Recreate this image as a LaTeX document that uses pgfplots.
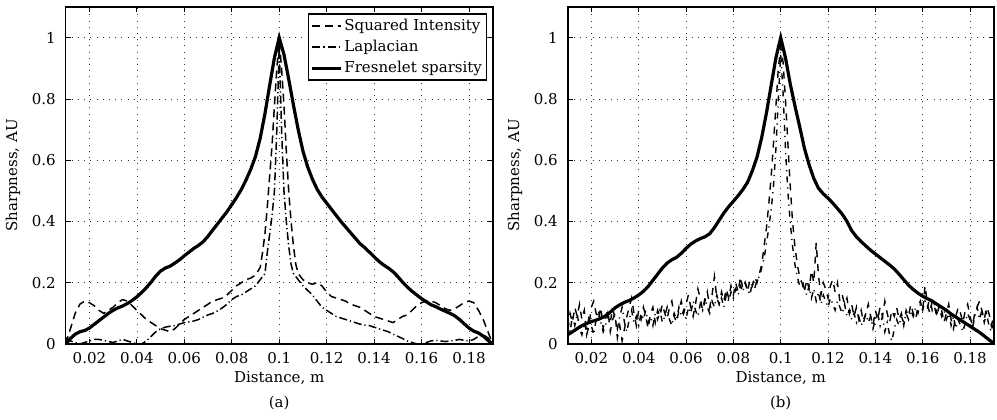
\documentclass[border=0pt]{standalone}
\usepackage{fontspec}
\setmainfont{DejaVu Serif}
\usepackage{pgfplots}
\usepackage{pgfplotstable}
\pgfplotsset{compat=1.18}

\pgfplotstableread{
x y
0.010 0.000
0.012 0.018
0.014 0.032
0.016 0.040
0.018 0.044
0.020 0.052
0.022 0.064
0.024 0.076
0.026 0.088
0.028 0.100
0.030 0.110
0.032 0.118
0.034 0.124
0.036 0.132
0.038 0.142
0.040 0.154
0.042 0.168
0.044 0.184
0.046 0.202
0.048 0.222
0.050 0.238
0.052 0.248
0.054 0.254
0.056 0.264
0.058 0.275
0.060 0.288
0.062 0.300
0.064 0.312
0.066 0.322
0.068 0.334
0.070 0.352
0.072 0.372
0.074 0.392
0.076 0.412
0.078 0.432
0.080 0.455
0.082 0.478
0.084 0.504
0.086 0.535
0.088 0.570
0.090 0.612
0.092 0.672
0.094 0.752
0.096 0.845
0.098 0.935
0.100 1.000
0.102 0.945
0.104 0.865
0.106 0.780
0.108 0.700
0.110 0.630
0.112 0.578
0.114 0.538
0.116 0.505
0.118 0.480
0.120 0.460
0.122 0.440
0.124 0.420
0.126 0.400
0.128 0.382
0.130 0.364
0.132 0.346
0.134 0.328
0.136 0.315
0.138 0.300
0.140 0.285
0.142 0.270
0.144 0.258
0.146 0.248
0.148 0.236
0.150 0.220
0.152 0.202
0.154 0.186
0.156 0.172
0.158 0.160
0.160 0.148
0.162 0.138
0.164 0.128
0.166 0.122
0.168 0.114
0.170 0.107
0.172 0.100
0.174 0.092
0.176 0.080
0.178 0.066
0.180 0.052
0.182 0.042
0.184 0.036
0.186 0.026
0.188 0.012
0.190 0.000
}\fresA

\pgfplotstableread{
x y
0.010 0.00
0.012 0.05
0.014 0.10
0.016 0.13
0.018 0.14
0.020 0.135
0.022 0.125
0.024 0.11
0.026 0.10
0.028 0.11
0.030 0.12
0.032 0.135
0.034 0.145
0.036 0.14
0.038 0.125
0.040 0.11
0.042 0.095
0.044 0.08
0.046 0.07
0.048 0.06
0.050 0.05
0.052 0.045
0.054 0.04
0.056 0.05
0.058 0.065
0.060 0.08
0.062 0.09
0.064 0.10
0.066 0.11
0.068 0.12
0.070 0.13
0.072 0.14
0.074 0.145
0.076 0.15
0.078 0.16
0.080 0.175
0.082 0.19
0.084 0.20
0.086 0.21
0.088 0.215
0.090 0.225
0.092 0.25
0.093 0.30
0.094 0.36
0.095 0.45
0.096 0.55
0.097 0.65
0.098 0.78
0.099 0.90
0.100 0.99
0.101 0.90
0.102 0.78
0.103 0.63
0.104 0.50
0.105 0.40
0.106 0.32
0.107 0.26
0.108 0.23
0.110 0.21
0.112 0.20
0.114 0.195
0.116 0.20
0.118 0.19
0.120 0.17
0.122 0.155
0.124 0.15
0.126 0.145
0.128 0.14
0.130 0.13
0.132 0.125
0.134 0.12
0.136 0.11
0.138 0.10
0.140 0.09
0.142 0.085
0.144 0.08
0.146 0.075
0.148 0.07
0.150 0.08
0.152 0.09
0.154 0.095
0.156 0.11
0.158 0.125
0.160 0.135
0.162 0.14
0.164 0.14
0.166 0.135
0.168 0.125
0.170 0.115
0.172 0.11
0.174 0.115
0.176 0.125
0.178 0.135
0.180 0.14
0.182 0.135
0.184 0.11
0.186 0.08
0.188 0.04
0.190 0.00
}\sqA

\pgfplotstableread{
x y
0.010 0.02
0.012 0.01
0.014 0.005
0.016 0.00
0.018 0.005
0.020 0.01
0.022 0.015
0.024 0.015
0.026 0.012
0.028 0.008
0.030 0.005
0.032 0.01
0.034 0.015
0.036 0.01
0.038 0.005
0.040 0.00
0.042 0.00
0.044 0.01
0.046 0.025
0.048 0.04
0.050 0.05
0.052 0.055
0.054 0.058
0.056 0.06
0.058 0.065
0.060 0.07
0.062 0.072
0.064 0.075
0.066 0.08
0.068 0.088
0.070 0.095
0.072 0.10
0.074 0.108
0.076 0.118
0.078 0.13
0.080 0.145
0.082 0.155
0.084 0.16
0.086 0.17
0.088 0.18
0.090 0.19
0.092 0.21
0.094 0.23
0.095 0.30
0.096 0.36
0.097 0.42
0.098 0.50
0.099 0.70
0.100 0.97
0.101 0.70
0.102 0.50
0.103 0.40
0.104 0.32
0.105 0.26
0.106 0.23
0.108 0.21
0.110 0.19
0.112 0.175
0.114 0.16
0.116 0.14
0.118 0.12
0.120 0.11
0.122 0.10
0.124 0.09
0.126 0.085
0.128 0.08
0.130 0.075
0.132 0.07
0.134 0.065
0.136 0.062
0.138 0.06
0.140 0.055
0.142 0.05
0.144 0.045
0.146 0.04
0.148 0.032
0.150 0.025
0.152 0.018
0.154 0.01
0.156 0.005
0.158 0.00
0.160 0.00
0.162 0.005
0.164 0.01
0.166 0.012
0.168 0.01
0.170 0.008
0.172 0.01
0.174 0.012
0.176 0.015
0.178 0.012
0.180 0.01
0.182 0.015
0.184 0.025
0.186 0.03
0.188 0.02
0.190 0.00
}\lapA

\pgfplotstableread{
x y
0.010 0.030
0.012 0.040
0.014 0.050
0.016 0.060
0.018 0.067
0.020 0.073
0.022 0.078
0.024 0.084
0.026 0.092
0.028 0.104
0.030 0.118
0.032 0.128
0.034 0.136
0.036 0.142
0.038 0.150
0.040 0.160
0.042 0.172
0.044 0.188
0.046 0.208
0.048 0.228
0.050 0.248
0.052 0.264
0.054 0.275
0.056 0.283
0.058 0.296
0.060 0.312
0.062 0.326
0.064 0.336
0.066 0.344
0.068 0.350
0.070 0.360
0.072 0.380
0.074 0.404
0.076 0.428
0.078 0.448
0.080 0.466
0.082 0.484
0.084 0.504
0.086 0.528
0.088 0.565
0.090 0.610
0.092 0.675
0.094 0.755
0.096 0.845
0.098 0.935
0.100 1.000
0.102 0.935
0.104 0.850
0.106 0.778
0.108 0.710
0.110 0.640
0.112 0.585
0.114 0.540
0.116 0.508
0.118 0.490
0.120 0.476
0.122 0.460
0.124 0.442
0.126 0.424
0.128 0.400
0.130 0.370
0.132 0.350
0.134 0.334
0.136 0.320
0.138 0.306
0.140 0.294
0.142 0.282
0.144 0.270
0.146 0.258
0.148 0.245
0.150 0.228
0.152 0.210
0.154 0.192
0.156 0.178
0.158 0.166
0.160 0.156
0.162 0.148
0.164 0.140
0.166 0.130
0.168 0.120
0.170 0.110
0.172 0.098
0.174 0.088
0.176 0.078
0.178 0.068
0.180 0.058
0.182 0.048
0.184 0.038
0.186 0.026
0.188 0.014
0.190 0.002
}\fresB

\pgfplotstableread{
x y
0.010 0.05
0.011 0.10
0.012 0.07
0.013 0.12
0.014 0.09
0.015 0.13
0.016 0.08
0.017 0.11
0.018 0.03
0.019 0.06
0.020 0.12
0.021 0.14
0.022 0.10
0.023 0.08
0.024 0.12
0.025 0.05
0.026 0.09
0.027 0.11
0.028 0.04
0.029 0.08
0.030 0.10
0.031 0.02
0.032 0.06
0.033 0.01
0.034 0.05
0.035 0.09
0.036 0.12
0.037 0.15
0.038 0.10
0.039 0.06
0.040 0.11
0.041 0.08
0.042 0.12
0.043 0.09
0.044 0.05
0.045 0.10
0.046 0.12
0.047 0.07
0.048 0.11
0.049 0.09
0.050 0.13
0.051 0.10
0.052 0.08
0.053 0.12
0.054 0.14
0.055 0.09
0.056 0.07
0.057 0.11
0.058 0.14
0.059 0.10
0.060 0.13
0.061 0.16
0.062 0.12
0.063 0.09
0.064 0.13
0.065 0.18
0.066 0.15
0.067 0.11
0.068 0.14
0.069 0.17
0.070 0.12
0.071 0.16
0.072 0.22
0.073 0.15
0.074 0.13
0.075 0.17
0.076 0.14
0.077 0.18
0.078 0.15
0.079 0.19
0.080 0.16
0.081 0.20
0.082 0.17
0.083 0.22
0.084 0.18
0.085 0.20
0.086 0.17
0.087 0.21
0.088 0.19
0.089 0.22
0.090 0.20
0.091 0.23
0.092 0.26
0.093 0.32
0.094 0.38
0.095 0.46
0.096 0.55
0.097 0.66
0.098 0.78
0.099 0.90
0.100 0.97
0.101 0.92
0.102 0.80
0.103 0.66
0.104 0.52
0.105 0.40
0.106 0.32
0.107 0.26
0.108 0.22
0.109 0.20
0.110 0.17
0.111 0.21
0.112 0.18
0.113 0.24
0.114 0.20
0.115 0.33
0.116 0.22
0.117 0.16
0.118 0.20
0.119 0.18
0.120 0.15
0.121 0.19
0.122 0.21
0.123 0.17
0.124 0.20
0.125 0.14
0.126 0.16
0.127 0.13
0.128 0.15
0.129 0.10
0.130 0.13
0.131 0.09
0.132 0.12
0.133 0.08
0.134 0.11
0.135 0.07
0.136 0.10
0.137 0.13
0.138 0.09
0.139 0.06
0.140 0.11
0.141 0.08
0.142 0.12
0.143 0.09
0.144 0.14
0.145 0.10
0.146 0.07
0.147 0.11
0.148 0.09
0.149 0.12
0.150 0.08
0.151 0.10
0.152 0.06
0.153 0.11
0.154 0.09
0.155 0.13
0.156 0.10
0.157 0.08
0.158 0.12
0.159 0.14
0.160 0.11
0.161 0.19
0.162 0.13
0.163 0.10
0.164 0.14
0.165 0.12
0.166 0.09
0.167 0.13
0.168 0.11
0.169 0.07
0.170 0.10
0.171 0.13
0.172 0.08
0.173 0.05
0.174 0.09
0.175 0.12
0.176 0.10
0.177 0.07
0.178 0.11
0.179 0.13
0.180 0.09
0.181 0.06
0.182 0.10
0.183 0.12
0.184 0.14
0.185 0.11
0.186 0.08
0.187 0.12
0.188 0.10
0.189 0.06
0.190 0.09
}\sqB

\pgfplotstableread{
x y
0.010 0.08
0.011 0.04
0.012 0.09
0.013 0.06
0.014 0.10
0.015 0.05
0.016 0.03
0.017 0.07
0.018 0.04
0.019 0.09
0.020 0.06
0.021 0.03
0.022 0.08
0.023 0.11
0.024 0.07
0.025 0.04
0.026 0.06
0.027 0.10
0.028 0.07
0.029 0.12
0.030 0.08
0.031 0.05
0.032 0.09
0.033 0.12
0.034 0.07
0.035 0.04
0.036 0.08
0.037 0.11
0.038 0.07
0.039 0.09
0.040 0.06
0.041 0.10
0.042 0.08
0.043 0.11
0.044 0.07
0.045 0.09
0.046 0.06
0.047 0.10
0.048 0.08
0.049 0.11
0.050 0.07
0.051 0.09
0.052 0.12
0.053 0.08
0.054 0.06
0.055 0.10
0.056 0.08
0.057 0.12
0.058 0.09
0.059 0.11
0.060 0.08
0.061 0.12
0.062 0.10
0.063 0.14
0.064 0.11
0.065 0.09
0.066 0.13
0.067 0.11
0.068 0.15
0.069 0.12
0.070 0.10
0.071 0.14
0.072 0.12
0.073 0.16
0.074 0.13
0.075 0.15
0.076 0.12
0.077 0.16
0.078 0.14
0.079 0.17
0.080 0.15
0.081 0.18
0.082 0.16
0.083 0.19
0.084 0.17
0.085 0.20
0.086 0.18
0.087 0.16
0.088 0.20
0.089 0.18
0.090 0.21
0.091 0.22
0.092 0.25
0.093 0.28
0.094 0.33
0.095 0.38
0.096 0.44
0.097 0.52
0.098 0.64
0.099 0.80
0.100 0.95
0.101 0.82
0.102 0.64
0.103 0.50
0.104 0.40
0.105 0.32
0.106 0.26
0.107 0.22
0.108 0.19
0.109 0.21
0.110 0.18
0.111 0.16
0.112 0.19
0.113 0.15
0.114 0.18
0.115 0.14
0.116 0.17
0.117 0.13
0.118 0.16
0.119 0.14
0.120 0.12
0.121 0.15
0.122 0.13
0.123 0.11
0.124 0.14
0.125 0.12
0.126 0.10
0.127 0.13
0.128 0.09
0.129 0.11
0.130 0.08
0.131 0.10
0.132 0.07
0.133 0.09
0.134 0.06
0.135 0.08
0.136 0.10
0.137 0.07
0.138 0.09
0.139 0.05
0.140 0.08
0.141 0.10
0.142 0.06
0.143 0.09
0.144 0.04
0.145 0.07
0.146 0.03
0.147 0.01
0.148 0.05
0.149 0.08
0.150 0.06
0.151 0.09
0.152 0.07
0.153 0.10
0.154 0.08
0.155 0.11
0.156 0.09
0.157 0.12
0.158 0.10
0.159 0.13
0.160 0.11
0.161 0.14
0.162 0.12
0.163 0.15
0.164 0.11
0.165 0.13
0.166 0.10
0.167 0.12
0.168 0.09
0.169 0.11
0.170 0.08
0.171 0.10
0.172 0.06
0.173 0.09
0.174 0.05
0.175 0.08
0.176 0.06
0.177 0.04
0.178 0.07
0.179 0.10
0.180 0.08
0.181 0.05
0.182 0.09
0.183 0.12
0.184 0.08
0.185 0.11
0.186 0.07
0.187 0.10
0.188 0.06
0.189 0.04
0.190 0.07
}\lapB

\def\myfont{\fontsize{7.5}{9}\selectfont}
\pgfplotsset{
  myaxis/.style={
    scale only axis,
    width=213.5pt, height=168.5pt,
    xmin=0.01, xmax=0.19, ymin=0, ymax=1.1,
    xtick={0.02,0.04,0.06,0.08,0.1,0.12,0.14,0.16,0.18},
    ytick={0,0.2,0.4,0.6,0.8,1},
    xticklabels={0.02,0.04,0.06,0.08,0.1,0.12,0.14,0.16,0.18},
    yticklabels={0,0.2,0.4,0.6,0.8,1},
    /pgf/number format/assume math mode=true,
    tick align=inside,
    major tick length=2.5pt,
    tick style={black, line width=0.4pt},
    axis line style={line width=0.8pt},
    grid=major,
    major grid style={black!80, line width=0.35pt, dash pattern=on 0.5pt off 2.6pt},
    font=\myfont,
    ticklabel style={font=\myfont},
    yticklabel style={xshift=-1.5pt},
    xticklabel style={yshift=-0.5pt},
    xlabel={Distance, m},
    ylabel={Sharpness, AU},
    xlabel style={at={([yshift=-17pt]axis description cs:0.5,0)}, anchor=center},
    ylabel style={at={([xshift=-26.3pt]axis description cs:0,0.5)}, anchor=center},
    clip=true,
    legend image code/.code={\draw[##1] (0cm,0cm) -- (0.5cm,0cm);},
  },
  sqstyle/.style={black, line width=0.75pt, dash pattern=on 4pt off 2.5pt},
  lapstyle/.style={black, line width=0.75pt, dash pattern=on 4pt off 1.5pt on 0.6pt off 1.5pt},
  sqBstyle/.style={black, line width=0.7pt, dash pattern=on 3.5pt off 3.5pt},
  lapBstyle/.style={black, line width=0.7pt, dash pattern=on 3pt off 2.5pt on 0.6pt off 2.5pt},
  frstyle/.style={black, line width=1.6pt},
}

\begin{document}
\begin{tikzpicture}
\useasboundingbox (-32.85pt,-37.5pt) rectangle (465.65pt,172pt);
\begin{axis}[myaxis, name=a1, at={(0pt,0pt)}, anchor=south west,
  legend style={at={(rel axis cs:0.987,0.981)}, anchor=north east,
    draw=black, line width=0.8pt, font=\myfont,
    inner sep=1.2pt, row sep=1.5pt, cells={anchor=west},
    nodes={inner sep=1pt}},
  legend cell align=left]
\addplot[sqstyle] table[x=x,y=y] {\sqA};
\addlegendentry{Squared Intensity}
\addplot[lapstyle] table[x=x,y=y] {\lapA};
\addlegendentry{Laplacian}
\addplot[frstyle] table[x=x,y=y] {\fresA};
\addlegendentry{Fresnelet sparsity}
\end{axis}
\node[font=\myfont] at ([yshift=-29.5pt]a1.south) {(a)};

\begin{axis}[myaxis, name=a2, at={(251pt,0pt)}, anchor=south west, width=213pt]
\addplot[sqBstyle] table[x=x,y=y] {\sqB};
\addplot[lapBstyle] table[x=x,y=y] {\lapB};
\addplot[frstyle] table[x=x,y=y] {\fresB};
\end{axis}
\node[font=\myfont] at ([yshift=-29.5pt]a2.south) {(b)};
\end{tikzpicture}
\end{document}
